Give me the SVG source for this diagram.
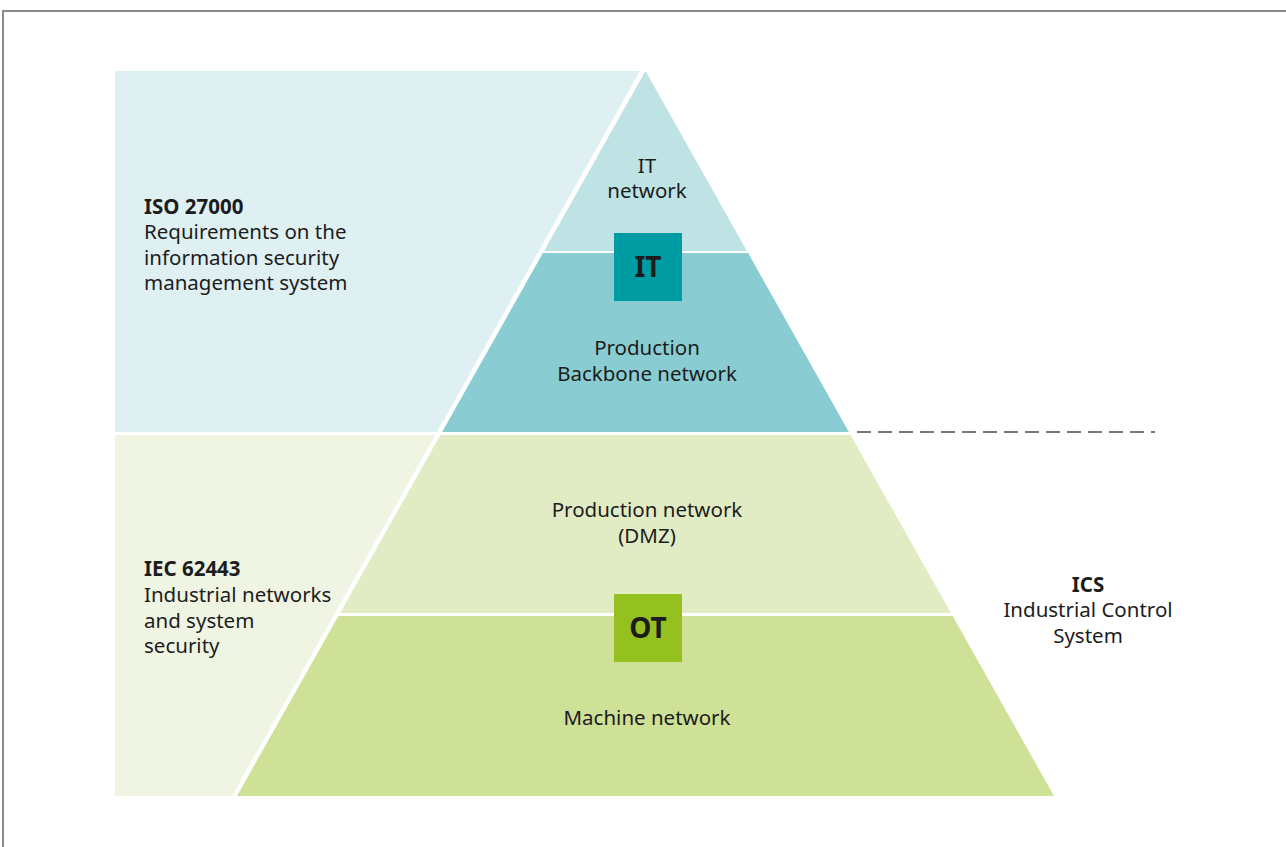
<svg xmlns="http://www.w3.org/2000/svg" width="1286" height="847" viewBox="0 0 1286 847">
<style>
  .t { font-family: "Noto Sans", "Liberation Sans", sans-serif; font-size: 20.5px; fill: #1c1c1c; }
  .b { font-weight: bold; }
  .c { text-anchor: middle; }
  .box { font-family: "Noto Sans", "Liberation Sans", sans-serif; font-size: 28px; font-weight: bold; fill: #1c1c1c; text-anchor: middle; }
</style>
<rect width="1286" height="847" fill="#ffffff"/>
<path d="M3 847 V11 H1286" fill="none" stroke="#8a8a8a" stroke-width="2"/>

<g id="iso-panel">
  <polygon points="115,71 640,71 437,432 115,432" fill="#dff0f2"/>
  <text class="t b" x="144" y="214">ISO 27000</text>
  <text class="t" x="144" y="239">Requirements on the</text>
  <text class="t" x="144" y="265">information security</text>
  <text class="t" x="144" y="290">management system</text>
</g>
<g id="iec-panel">
  <polygon points="115,435 435.4,435 232,796 115,796" fill="#f0f5e3"/>
  <text class="t b" x="144" y="576">IEC 62443</text>
  <text class="t" x="144" y="602">Industrial networks</text>
  <text class="t" x="144" y="628">and system</text>
  <text class="t" x="144" y="653">security</text>
</g>

<g id="it-network">
  <polygon points="645.5,71 746.9,251 544.1,251" fill="#bfe2e5"/>
  <text class="t c" x="647" y="173">IT</text>
  <text class="t c" x="647" y="198">network</text>
</g>
<g id="backbone">
  <polygon points="542.9,253 748.1,253 848.9,432 442.1,432" fill="#89cdd2"/>
  <text class="t c" x="647" y="355">Production</text>
  <text class="t c" x="647" y="381">Backbone network</text>
</g>
<g id="production-network">
  <polygon points="440.4,435 850.6,435 950.9,613 340.1,613" fill="#e1ecc4"/>
  <text class="t c" x="647" y="517">Production network</text>
  <text class="t c" x="647" y="543">(DMZ)</text>
</g>
<g id="machine-network">
  <polygon points="338.4,616 952.6,616 1054,796 237,796" fill="#cfe097"/>
  <text class="t c" x="647" y="725">Machine network</text>
</g>
<g id="it-box">
  <rect x="614" y="233" width="68" height="68" fill="#009ca3"/>
  <text class="box" x="648" y="277">IT</text>
</g>
<g id="ot-box">
  <rect x="614" y="594" width="68" height="68" fill="#94c11f"/>
  <text class="box" x="648" y="638">OT</text>
</g>
<g id="ics-label">
  <text class="t b c" x="1088" y="592">ICS</text>
  <text class="t c" x="1088" y="617">Industrial Control</text>
  <text class="t c" x="1088" y="643">System</text>
</g>
<g id="connectors">
  <line x1="857" y1="432" x2="1155" y2="432" stroke="#777777" stroke-width="2" stroke-dasharray="14 7"/>
</g>
</svg>
